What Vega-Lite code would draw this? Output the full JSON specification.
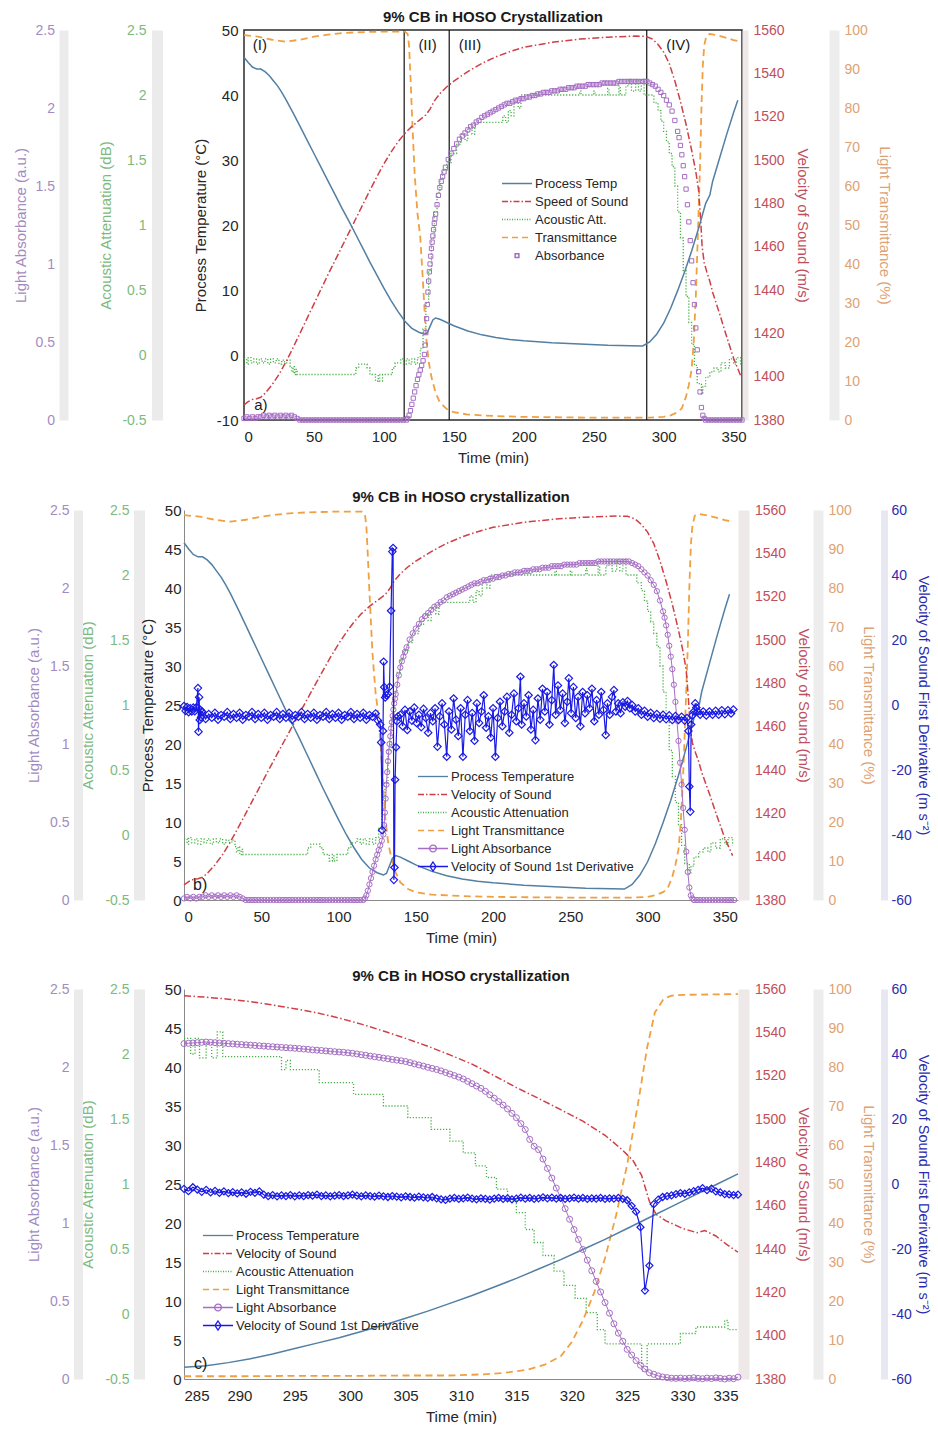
{
"$schema": "https://vega.github.io/schema/vega-lite/v6.json",
"background": "white",
"padding": {"left": 11, "top": 9, "right": 0, "bottom": 0},
"spacing": 24,
"config": {
  "font": "Liberation Sans",
  "view": {"stroke": null},
  "axis": {"labelFont": "Liberation Sans", "titleFont": "Liberation Sans", "labelFontSize": 14, "titleFontSize": 15, "titleFontWeight": "normal", "ticks": false, "grid": false, "labelColor": "#262626", "titleColor": "#262626", "domainColor": "#8a8a8a"},
  "legend": {"labelFont": "Liberation Sans", "labelFontSize": 13, "labelColor": "#262626", "labelLimit": 400},
  "title": {"font": "Liberation Sans", "fontSize": 15, "fontWeight": "bold", "color": "#1a1a1a"},
  "text": {"font": "Liberation Sans"}
},
"resolve": {"scale": {"color": "independent"}, "legend": {"color": "independent"}},
"datasets": {
  "none": [],
  "phasesA": [{"t":114.5},{"t":146.7},{"t":287.9}],
  "labelsA": [{"t":11.4,"v":47.7,"label":"(I)"},{"t":131.2,"v":47.7,"label":"(II)"},{"t":161.5,"v":47.7,"label":"(III)"},{"t":310.4,"v":47.7,"label":"(IV)"},{"t":12.1,"v":-7.7,"label":"a)"}],
  "labelsB": [{"t":10.5,"v":1.9,"label":"b)"}],
  "labelsC": [{"t":286.5,"v":1.9,"label":"c)"}],
  "tempAB": [{"t":0,"v":45.8},{"t":3,"v":45.0},{"t":6,"v":44.3},{"t":9,"v":44.0},{"t":12,"v":44.0},{"t":15,"v":43.6},{"t":18,"v":43.0},{"t":21,"v":42.2},{"t":24,"v":41.4},{"t":27,"v":40.4},{"t":30,"v":39.3},{"t":35,"v":37.3},{"t":40,"v":35.2},{"t":45,"v":33.1},{"t":50,"v":31.0},{"t":55,"v":28.9},{"t":60,"v":26.8},{"t":65,"v":24.7},{"t":70,"v":22.6},{"t":75,"v":20.6},{"t":80,"v":18.5},{"t":85,"v":16.4},{"t":90,"v":14.3},{"t":95,"v":12.3},{"t":100,"v":10.3},{"t":105,"v":8.4},{"t":110,"v":6.7},{"t":115,"v":5.2},{"t":120,"v":4.1},{"t":125,"v":3.5},{"t":129,"v":3.2},{"t":131,"v":3.4},{"t":133,"v":4.4},{"t":135,"v":5.4},{"t":137,"v":5.7},{"t":140,"v":5.5},{"t":145,"v":5.0},{"t":150,"v":4.5},{"t":160,"v":3.7},{"t":170,"v":3.1},{"t":180,"v":2.7},{"t":190,"v":2.4},{"t":200,"v":2.2},{"t":220,"v":1.9},{"t":240,"v":1.7},{"t":260,"v":1.5},{"t":285,"v":1.4},{"t":290,"v":2.0},{"t":295,"v":3.2},{"t":300,"v":4.9},{"t":305,"v":7.2},{"t":310,"v":9.9},{"t":315,"v":12.8},{"t":320,"v":16.0},{"t":325,"v":19.5},{"t":330,"v":23.3},{"t":333,"v":24.6},{"t":335,"v":26.7},{"t":340,"v":30.3},{"t":345,"v":33.9},{"t":350,"v":37.3},{"t":353,"v":39.2}],
  "vosAB": [{"t":0,"v":1387},{"t":3,"v":1388.5},{"t":6,"v":1389.5},{"t":9,"v":1389.8},{"t":12,"v":1390.5},{"t":15,"v":1392.3},{"t":20,"v":1396.2},{"t":25,"v":1401},{"t":30,"v":1406.8},{"t":35,"v":1413.3},{"t":40,"v":1420},{"t":45,"v":1426.8},{"t":50,"v":1433.5},{"t":55,"v":1440.3},{"t":60,"v":1447},{"t":65,"v":1453.5},{"t":70,"v":1460},{"t":75,"v":1466.5},{"t":80,"v":1473},{"t":85,"v":1479.5},{"t":90,"v":1486},{"t":95,"v":1492.3},{"t":100,"v":1498.2},{"t":105,"v":1503.5},{"t":110,"v":1508.3},{"t":115,"v":1512.3},{"t":120,"v":1515.5},{"t":125,"v":1518.2},{"t":130,"v":1520.8},{"t":133,"v":1523.5},{"t":136,"v":1527.2},{"t":140,"v":1530.6},{"t":145,"v":1533.8},{"t":150,"v":1536.4},{"t":160,"v":1540.8},{"t":170,"v":1544.6},{"t":180,"v":1547.6},{"t":190,"v":1550},{"t":200,"v":1552},{"t":220,"v":1554.3},{"t":240,"v":1555.8},{"t":260,"v":1556.7},{"t":280,"v":1557.2},{"t":287,"v":1557.1},{"t":292,"v":1555.8},{"t":296,"v":1553.3},{"t":300,"v":1549.8},{"t":304,"v":1544.5},{"t":308,"v":1536.5},{"t":312,"v":1527},{"t":316,"v":1516.5},{"t":320,"v":1504.5},{"t":323,"v":1494.5},{"t":325,"v":1486},{"t":326.5,"v":1472},{"t":327.5,"v":1460},{"t":329,"v":1452.5},{"t":331,"v":1448},{"t":333,"v":1444},{"t":335,"v":1439},{"t":340,"v":1429},{"t":345,"v":1418.5},{"t":350,"v":1408.5},{"t":355,"v":1400.5}],
  "transAB": [{"t":0,"v":98.7},{"t":10,"v":98.3},{"t":20,"v":97.5},{"t":30,"v":97.0},{"t":40,"v":97.5},{"t":50,"v":98.3},{"t":60,"v":98.8},{"t":70,"v":99.2},{"t":80,"v":99.4},{"t":100,"v":99.6},{"t":115,"v":99.6},{"t":117,"v":99.0},{"t":118,"v":96},{"t":119,"v":88},{"t":120,"v":79},{"t":122,"v":63},{"t":124,"v":53},{"t":126,"v":47},{"t":128,"v":35},{"t":130,"v":22},{"t":132,"v":15},{"t":134,"v":11},{"t":137,"v":7},{"t":140,"v":4.5},{"t":145,"v":2.8},{"t":150,"v":2.0},{"t":160,"v":1.4},{"t":180,"v":1.0},{"t":200,"v":0.8},{"t":250,"v":0.6},{"t":290,"v":0.6},{"t":300,"v":0.8},{"t":305,"v":1.2},{"t":310,"v":2.0},{"t":313,"v":3.0},{"t":316,"v":6.0},{"t":318,"v":9.0},{"t":320,"v":13},{"t":321.5,"v":20},{"t":323,"v":32},{"t":324.5,"v":48},{"t":326,"v":65},{"t":327,"v":80},{"t":328,"v":91},{"t":329,"v":96},{"t":330.5,"v":98.5},{"t":333,"v":99.0},{"t":340,"v":98.5},{"t":350,"v":97.4},{"t":355,"v":97.0}],
  "attAB": [{"t":0,"v":-0.03},{"t":2,"v":-0.07},{"t":3,"v":-0.02},{"t":5,"v":-0.06},{"t":7,"v":-0.03},{"t":9,"v":-0.07},{"t":11,"v":-0.03},{"t":13,"v":-0.06},{"t":15,"v":-0.03},{"t":17,"v":-0.07},{"t":19,"v":-0.03},{"t":21,"v":-0.06},{"t":23,"v":-0.03},{"t":25,"v":-0.07},{"t":27,"v":-0.04},{"t":29,"v":-0.06},{"t":31,"v":-0.04},{"t":33,"v":-0.09},{"t":34,"v":-0.13},{"t":35,"v":-0.09},{"t":36,"v":-0.15},{"t":37,"v":-0.11},{"t":38,"v":-0.15},{"t":80,"v":-0.10},{"t":82,"v":-0.07},{"t":88,"v":-0.10},{"t":90,"v":-0.15},{"t":94,"v":-0.20},{"t":96,"v":-0.15},{"t":97,"v":-0.20},{"t":99,"v":-0.15},{"t":106,"v":-0.10},{"t":108,"v":-0.06},{"t":112,"v":-0.03},{"t":114,"v":-0.07},{"t":116,"v":-0.03},{"t":118,"v":-0.07},{"t":120,"v":-0.03},{"t":122,"v":-0.07},{"t":124,"v":-0.02},{"t":126,"v":0.05},{"t":128,"v":0.2},{"t":130,"v":0.4},{"t":132,"v":0.65},{"t":134,"v":0.9},{"t":136,"v":1.1},{"t":138,"v":1.25},{"t":140,"v":1.35},{"t":142,"v":1.42},{"t":145,"v":1.48},{"t":148,"v":1.55},{"t":152,"v":1.62},{"t":155,"v":1.70},{"t":158,"v":1.65},{"t":160,"v":1.75},{"t":163,"v":1.70},{"t":165,"v":1.79},{"t":185,"v":1.84},{"t":187,"v":1.79},{"t":189,"v":1.88},{"t":191,"v":1.84},{"t":193,"v":1.94},{"t":196,"v":1.90},{"t":198,"v":2.0},{"t":240,"v":2.03},{"t":241,"v":2.0},{"t":250,"v":2.03},{"t":251,"v":2.0},{"t":260,"v":2.05},{"t":261,"v":2.0},{"t":268,"v":2.07},{"t":269,"v":2.0},{"t":273,"v":2.07},{"t":275,"v":2.12},{"t":277,"v":2.03},{"t":280,"v":2.12},{"t":282,"v":2.03},{"t":284,"v":2.12},{"t":286,"v":2.0},{"t":293,"v":1.94},{"t":296,"v":1.88},{"t":298,"v":1.80},{"t":300,"v":1.72},{"t":302,"v":1.64},{"t":304,"v":1.55},{"t":306,"v":1.45},{"t":308,"v":1.30},{"t":310,"v":1.10},{"t":312,"v":0.90},{"t":314,"v":0.65},{"t":316,"v":0.45},{"t":318,"v":0.25},{"t":320,"v":0.08},{"t":322,"v":-0.08},{"t":324,"v":-0.22},{"t":327,"v":-0.30},{"t":328,"v":-0.24},{"t":330,"v":-0.17},{"t":333,"v":-0.13},{"t":336,"v":-0.10},{"t":339,"v":-0.13},{"t":341,"v":-0.06},{"t":344,"v":-0.10},{"t":347,"v":-0.03},{"t":350,"v":-0.07},{"t":352,"v":-0.02},{"t":355,"v":-0.08}],
  "absAB": [{"t":0,"v":0.01},{"t":2,"v":0.02},{"t":4,"v":0.01},{"t":6,"v":0.02},{"t":8,"v":0.01},{"t":10,"v":0.02},{"t":12,"v":0.02},{"t":14,"v":0.03},{"t":16,"v":0.02},{"t":18,"v":0.03},{"t":20,"v":0.02},{"t":22,"v":0.03},{"t":24,"v":0.02},{"t":26,"v":0.03},{"t":28,"v":0.02},{"t":30,"v":0.03},{"t":32,"v":0.02},{"t":34,"v":0.03},{"t":36,"v":0.02},{"t":38,"v":0.01},{"t":40,"v":0},{"t":42,"v":0},{"t":44,"v":0},{"t":46,"v":0},{"t":48,"v":0},{"t":50,"v":0},{"t":52,"v":0},{"t":54,"v":0},{"t":56,"v":0},{"t":58,"v":0},{"t":60,"v":0},{"t":62,"v":0},{"t":64,"v":0},{"t":66,"v":0},{"t":68,"v":0},{"t":70,"v":0},{"t":72,"v":0},{"t":74,"v":0},{"t":76,"v":0},{"t":78,"v":0},{"t":80,"v":0},{"t":82,"v":0},{"t":84,"v":0},{"t":86,"v":0},{"t":88,"v":0},{"t":90,"v":0},{"t":92,"v":0},{"t":94,"v":0},{"t":96,"v":0},{"t":98,"v":0},{"t":100,"v":0},{"t":102,"v":0},{"t":104,"v":0},{"t":106,"v":0},{"t":108,"v":0},{"t":110,"v":0},{"t":112,"v":0},{"t":114,"v":0},{"t":116,"v":0},{"t":117,"v":0.01},{"t":118,"v":0.03},{"t":119,"v":0.06},{"t":120,"v":0.10},{"t":121,"v":0.14},{"t":122,"v":0.18},{"t":123,"v":0.22},{"t":124,"v":0.26},{"t":125,"v":0.29},{"t":126,"v":0.32},{"t":127,"v":0.35},{"t":128,"v":0.38},{"t":129,"v":0.42},{"t":129.5,"v":0.48},{"t":130,"v":0.56},{"t":130.5,"v":0.65},{"t":131,"v":0.74},{"t":131.5,"v":0.82},{"t":132,"v":0.89},{"t":132.5,"v":0.95},{"t":133,"v":1.0},{"t":133.5,"v":1.05},{"t":134,"v":1.1},{"t":134.5,"v":1.14},{"t":135,"v":1.18},{"t":135.5,"v":1.22},{"t":136,"v":1.26},{"t":136.5,"v":1.29},{"t":137,"v":1.32},{"t":138,"v":1.38},{"t":139,"v":1.44},{"t":140,"v":1.49},{"t":141,"v":1.53},{"t":142,"v":1.56},{"t":143,"v":1.59},{"t":144,"v":1.62},{"t":146,"v":1.67},{"t":148,"v":1.71},{"t":150,"v":1.74},{"t":152,"v":1.77},{"t":154,"v":1.80},{"t":156,"v":1.82},{"t":158,"v":1.84},{"t":160,"v":1.86},{"t":162,"v":1.88},{"t":164,"v":1.89},{"t":166,"v":1.91},{"t":168,"v":1.92},{"t":170,"v":1.94},{"t":172,"v":1.95},{"t":174,"v":1.96},{"t":176,"v":1.97},{"t":178,"v":1.98},{"t":180,"v":1.99},{"t":182,"v":2.00},{"t":184,"v":2.01},{"t":186,"v":2.02},{"t":188,"v":2.03},{"t":190,"v":2.03},{"t":192,"v":2.04},{"t":194,"v":2.05},{"t":196,"v":2.05},{"t":198,"v":2.06},{"t":200,"v":2.06},{"t":202,"v":2.07},{"t":204,"v":2.07},{"t":206,"v":2.08},{"t":208,"v":2.08},{"t":210,"v":2.09},{"t":212,"v":2.09},{"t":214,"v":2.10},{"t":216,"v":2.10},{"t":218,"v":2.10},{"t":220,"v":2.11},{"t":222,"v":2.11},{"t":224,"v":2.11},{"t":226,"v":2.12},{"t":228,"v":2.12},{"t":230,"v":2.12},{"t":232,"v":2.13},{"t":234,"v":2.13},{"t":236,"v":2.13},{"t":238,"v":2.14},{"t":240,"v":2.14},{"t":242,"v":2.14},{"t":244,"v":2.14},{"t":246,"v":2.15},{"t":248,"v":2.15},{"t":250,"v":2.15},{"t":252,"v":2.15},{"t":254,"v":2.15},{"t":256,"v":2.16},{"t":258,"v":2.16},{"t":260,"v":2.16},{"t":262,"v":2.16},{"t":264,"v":2.16},{"t":266,"v":2.16},{"t":268,"v":2.17},{"t":270,"v":2.17},{"t":272,"v":2.17},{"t":274,"v":2.17},{"t":276,"v":2.17},{"t":278,"v":2.17},{"t":280,"v":2.17},{"t":282,"v":2.17},{"t":284,"v":2.17},{"t":286,"v":2.17},{"t":288,"v":2.17},{"t":290,"v":2.16},{"t":292,"v":2.15},{"t":294,"v":2.14},{"t":296,"v":2.12},{"t":298,"v":2.10},{"t":300,"v":2.08},{"t":302,"v":2.05},{"t":304,"v":2.02},{"t":306,"v":1.98},{"t":308,"v":1.92},{"t":310,"v":1.85},{"t":311,"v":1.81},{"t":312,"v":1.76},{"t":313,"v":1.70},{"t":314,"v":1.63},{"t":315,"v":1.56},{"t":316,"v":1.48},{"t":317,"v":1.38},{"t":318,"v":1.27},{"t":319,"v":1.15},{"t":320,"v":1.02},{"t":321,"v":0.88},{"t":322,"v":0.74},{"t":323,"v":0.59},{"t":324,"v":0.45},{"t":325,"v":0.31},{"t":326,"v":0.18},{"t":327,"v":0.08},{"t":328,"v":0.03},{"t":329,"v":0.01},{"t":330,"v":0},{"t":332,"v":0},{"t":334,"v":0},{"t":336,"v":0},{"t":338,"v":0},{"t":340,"v":0},{"t":342,"v":0},{"t":344,"v":0},{"t":346,"v":0},{"t":348,"v":0},{"t":350,"v":0},{"t":352,"v":0},{"t":354,"v":0},{"t":356,"v":0}],
  "derivB": [{"t":0,"v":-0.3},{"t":1,"v":-1.8},{"t":2,"v":-0.6},{"t":3,"v":-2.2},{"t":4,"v":-1.0},{"t":5,"v":-2.0},{"t":6,"v":-0.8},{"t":7,"v":-1.9},{"t":8,"v":-0.7},{"t":9,"v":5.2},{"t":9.4,"v":-8.2},{"t":9.8,"v":2.4},{"t":10.2,"v":-4.6},{"t":10.6,"v":-1.5},{"t":11,"v":-3.8},{"t":11.5,"v":-2.0},{"t":12,"v":-2.2},{"t":14,"v":-4.3},{"t":16,"v":-2.8},{"t":18,"v":-3.9},{"t":20,"v":-2.4},{"t":22,"v":-4.5},{"t":24,"v":-3.1},{"t":26,"v":-3.6},{"t":28,"v":-2.2},{"t":30,"v":-4.3},{"t":32,"v":-2.8},{"t":34,"v":-3.9},{"t":36,"v":-2.4},{"t":38,"v":-4.5},{"t":40,"v":-3.1},{"t":42,"v":-3.6},{"t":44,"v":-2.2},{"t":46,"v":-4.3},{"t":48,"v":-2.8},{"t":50,"v":-3.9},{"t":52,"v":-2.4},{"t":54,"v":-4.5},{"t":56,"v":-3.1},{"t":58,"v":-3.6},{"t":60,"v":-2.2},{"t":62,"v":-4.3},{"t":64,"v":-2.8},{"t":66,"v":-3.9},{"t":68,"v":-2.4},{"t":70,"v":-4.5},{"t":72,"v":-3.1},{"t":74,"v":-3.6},{"t":76,"v":-2.2},{"t":78,"v":-4.3},{"t":80,"v":-2.8},{"t":82,"v":-3.9},{"t":84,"v":-2.4},{"t":86,"v":-4.5},{"t":88,"v":-3.1},{"t":90,"v":-3.6},{"t":92,"v":-2.2},{"t":94,"v":-4.3},{"t":96,"v":-2.8},{"t":98,"v":-3.9},{"t":100,"v":-2.4},{"t":102,"v":-4.5},{"t":104,"v":-3.1},{"t":106,"v":-3.6},{"t":108,"v":-2.2},{"t":110,"v":-4.3},{"t":112,"v":-2.8},{"t":114,"v":-3.9},{"t":116,"v":-2.4},{"t":118,"v":-4.5},{"t":120,"v":-3.1},{"t":122,"v":-3.6},{"t":124,"v":-2.6},{"t":125.5,"v":-4.8},{"t":127,"v":-6},{"t":127.6,"v":-11.5},{"t":128.2,"v":-38.5},{"t":128.8,"v":-8},{"t":129.2,"v":13.3},{"t":129.6,"v":5.5},{"t":130.2,"v":2.3},{"t":131,"v":3.0},{"t":132,"v":3.4},{"t":133,"v":5.6},{"t":134,"v":29},{"t":134.8,"v":47.2},{"t":135.3,"v":48.3},{"t":135.8,"v":-53.8},{"t":136.2,"v":-50},{"t":136.6,"v":-23},{"t":137.2,"v":-13},{"t":137.8,"v":-5},{"t":138.5,"v":-3.5},{"t":140,"v":-3.0},{"t":141.5,"v":-6.5},{"t":143,"v":-1.5},{"t":144.5,"v":-7.7},{"t":146,"v":-2.0},{"t":147.5,"v":-4.8},{"t":149,"v":-0.8},{"t":150.5,"v":-5.5},{"t":152,"v":-3.0},{"t":153.5,"v":-6.8},{"t":155,"v":-1.2},{"t":156.5,"v":-4.0},{"t":158,"v":-8.5},{"t":159.5,"v":-2.5},{"t":161,"v":-5.0},{"t":162.5,"v":-1.0},{"t":164,"v":-12.8},{"t":165.5,"v":-3.5},{"t":167,"v":0.5},{"t":168.5,"v":-6.0},{"t":170,"v":-15.9},{"t":171.5,"v":-2.0},{"t":173,"v":-7.5},{"t":174.5,"v":2.0},{"t":176,"v":-4.5},{"t":177.5,"v":-9.5},{"t":179,"v":-1.0},{"t":180.5,"v":-15.9},{"t":182,"v":-3.0},{"t":183.5,"v":1.5},{"t":185,"v":-8.0},{"t":186.5,"v":-2.5},{"t":188,"v":-11.0},{"t":189.5,"v":0.5},{"t":191,"v":-5.5},{"t":192.5,"v":-2.0},{"t":194,"v":3.0},{"t":195.5,"v":-7.0},{"t":197,"v":-3.5},{"t":198.5,"v":-10.0},{"t":200,"v":-1.0},{"t":201.5,"v":-15.9},{"t":203,"v":-4.0},{"t":204.5,"v":1.0},{"t":206,"v":-6.5},{"t":207.5,"v":-2.0},{"t":209,"v":2.5},{"t":210.5,"v":-8.5},{"t":212,"v":-3.0},{"t":213.5,"v":3.5},{"t":215,"v":-5.0},{"t":216.5,"v":-1.0},{"t":217.7,"v":8.7},{"t":218.5,"v":-6.0},{"t":220,"v":0.5},{"t":221.5,"v":-3.5},{"t":223,"v":3.0},{"t":224.5,"v":-7.5},{"t":226,"v":-1.5},{"t":227.4,"v":-10.8},{"t":229,"v":2.0},{"t":230.5,"v":-4.5},{"t":232,"v":5.0},{"t":233.5,"v":-2.0},{"t":235,"v":4.0},{"t":236.5,"v":-6.0},{"t":238,"v":1.5},{"t":239.3,"v":12.3},{"t":240.5,"v":-3.0},{"t":242,"v":6.0},{"t":243.5,"v":-1.5},{"t":245,"v":3.5},{"t":246.5,"v":-5.5},{"t":248,"v":1.0},{"t":249,"v":8.2},{"t":250.5,"v":-2.5},{"t":252,"v":5.5},{"t":253.5,"v":-4.0},{"t":255,"v":2.5},{"t":256.5,"v":-6.5},{"t":258,"v":4.0},{"t":259.5,"v":-2.5},{"t":261,"v":3.0},{"t":262.5,"v":-1.0},{"t":264,"v":5.0},{"t":265.5,"v":-5.0},{"t":267,"v":1.5},{"t":268.5,"v":-3.0},{"t":270,"v":4.0},{"t":271.5,"v":-1.5},{"t":272.9,"v":-9.2},{"t":274,"v":0.5},{"t":275.5,"v":-3.0},{"t":277,"v":2.5},{"t":278.2,"v":4.6},{"t":279.5,"v":-2.0},{"t":281,"v":0.5},{"t":282.5,"v":-2.5},{"t":284,"v":0.8},{"t":285.5,"v":-0.5},{"t":287,"v":1.2},{"t":288.5,"v":-1.0},{"t":290,"v":0.0},{"t":292,"v":-2.0},{"t":294,"v":-1.0},{"t":296,"v":-3.0},{"t":298,"v":-1.8},{"t":300,"v":-3.6},{"t":302,"v":-2.4},{"t":304,"v":-4.0},{"t":306,"v":-2.8},{"t":308,"v":-4.2},{"t":310,"v":-3.0},{"t":312,"v":-4.4},{"t":314,"v":-3.2},{"t":316,"v":-4.6},{"t":318,"v":-3.4},{"t":320,"v":-4.6},{"t":322,"v":-3.6},{"t":324,"v":-4.8},{"t":325.5,"v":-4.0},{"t":326.4,"v":-8.0},{"t":327,"v":-25.1},{"t":327.6,"v":-32.8},{"t":328.2,"v":-6.0},{"t":329,"v":-3.2},{"t":330,"v":-2.0},{"t":330.8,"v":0.5},{"t":331.5,"v":-0.8},{"t":332.5,"v":-2.0},{"t":334,"v":-3.0},{"t":336,"v":-2.0},{"t":338,"v":-3.2},{"t":340,"v":-2.0},{"t":342,"v":-3.0},{"t":344,"v":-1.8},{"t":346,"v":-3.0},{"t":348,"v":-1.6},{"t":350,"v":-2.8},{"t":352,"v":-1.6},{"t":354,"v":-2.6},{"t":355.5,"v":-1.4}],
  "tempC": [{"t":285,"v":1.5},{"t":287,"v":1.7},{"t":289,"v":2.1},{"t":291,"v":2.6},{"t":293,"v":3.2},{"t":295,"v":3.9},{"t":297,"v":4.6},{"t":299,"v":5.3},{"t":301,"v":6.1},{"t":303,"v":6.9},{"t":305,"v":7.8},{"t":307,"v":8.7},{"t":309,"v":9.7},{"t":311,"v":10.7},{"t":313,"v":11.8},{"t":315,"v":12.9},{"t":317,"v":14.1},{"t":319,"v":15.3},{"t":321,"v":16.6},{"t":323,"v":17.9},{"t":325,"v":19.3},{"t":327,"v":20.7},{"t":329,"v":22.1},{"t":331,"v":23.5},{"t":333,"v":24.9},{"t":335,"v":26.3}],
  "vosC": [{"t":285,"v":1556.9},{"t":287,"v":1556.2},{"t":289,"v":1555.3},{"t":291,"v":1554.2},{"t":293,"v":1552.6},{"t":295,"v":1550.9},{"t":297,"v":1549.0},{"t":299,"v":1546.6},{"t":301,"v":1543.8},{"t":303,"v":1540.6},{"t":305,"v":1537.2},{"t":307,"v":1533.6},{"t":309,"v":1529.6},{"t":311,"v":1525.3},{"t":313,"v":1520.0},{"t":315,"v":1514.5},{"t":317,"v":1509.5},{"t":319,"v":1504.3},{"t":321,"v":1499.0},{"t":323,"v":1492.5},{"t":324.5,"v":1486},{"t":325.5,"v":1481},{"t":326.3,"v":1474},{"t":327,"v":1462},{"t":327.6,"v":1456},{"t":328.5,"v":1453},{"t":330,"v":1449.5},{"t":331.3,"v":1447.5},{"t":332,"v":1448.5},{"t":333,"v":1446},{"t":334,"v":1442},{"t":335,"v":1438.5}],
  "transC": [{"t":285,"v":0.7},{"t":290,"v":0.7},{"t":295,"v":0.8},{"t":300,"v":0.8},{"t":305,"v":0.9},{"t":309,"v":0.9},{"t":312,"v":1.2},{"t":314,"v":1.6},{"t":316,"v":2.4},{"t":317.5,"v":3.6},{"t":319,"v":5.8},{"t":320,"v":9.5},{"t":321,"v":15},{"t":322,"v":22},{"t":323,"v":31},{"t":324,"v":42},{"t":325,"v":55},{"t":326,"v":71},{"t":326.8,"v":85},{"t":327.5,"v":94},{"t":328.3,"v":97.5},{"t":329,"v":98.3},{"t":330,"v":98.5},{"t":335,"v":98.7}],
  "attC": [{"t":285,"v":2.12},{"t":285.6,"v":2.0},{"t":286,"v":2.12},{"t":286.4,"v":1.97},{"t":287,"v":2.08},{"t":287.5,"v":1.97},{"t":288,"v":2.17},{"t":288.5,"v":1.98},{"t":293.8,"v":1.88},{"t":294.2,"v":1.95},{"t":294.6,"v":1.88},{"t":297.2,"v":1.78},{"t":300.3,"v":1.69},{"t":303.0,"v":1.60},{"t":305.2,"v":1.51},{"t":307.3,"v":1.42},{"t":309.0,"v":1.33},{"t":310.2,"v":1.24},{"t":311.3,"v":1.14},{"t":312.3,"v":1.05},{"t":313.2,"v":0.96},{"t":314.2,"v":0.87},{"t":315.0,"v":0.78},{"t":315.8,"v":0.65},{"t":316.6,"v":0.55},{"t":317.4,"v":0.45},{"t":318.4,"v":0.33},{"t":319.3,"v":0.22},{"t":320.3,"v":0.12},{"t":321.3,"v":0.01},{"t":322.3,"v":-0.12},{"t":323.0,"v":-0.23},{"t":326.3,"v":-0.44},{"t":326.8,"v":-0.23},{"t":329.8,"v":-0.15},{"t":331.2,"v":-0.10},{"t":333.8,"v":-0.05},{"t":334.1,"v":-0.12},{"t":335,"v":-0.12}],
  "absC": [{"t":285.0,"v":2.150},{"t":285.4,"v":2.152},{"t":285.8,"v":2.154},{"t":286.2,"v":2.156},{"t":286.6,"v":2.158},{"t":287.0,"v":2.160},{"t":287.4,"v":2.158},{"t":287.8,"v":2.156},{"t":288.2,"v":2.154},{"t":288.6,"v":2.152},{"t":289.0,"v":2.150},{"t":289.4,"v":2.148},{"t":289.8,"v":2.146},{"t":290.2,"v":2.144},{"t":290.6,"v":2.142},{"t":291.0,"v":2.140},{"t":291.4,"v":2.138},{"t":291.8,"v":2.136},{"t":292.2,"v":2.134},{"t":292.6,"v":2.132},{"t":293.0,"v":2.130},{"t":293.4,"v":2.128},{"t":293.8,"v":2.126},{"t":294.2,"v":2.124},{"t":294.6,"v":2.122},{"t":295.0,"v":2.120},{"t":295.4,"v":2.118},{"t":295.8,"v":2.115},{"t":296.2,"v":2.113},{"t":296.6,"v":2.110},{"t":297.0,"v":2.108},{"t":297.4,"v":2.106},{"t":297.8,"v":2.103},{"t":298.2,"v":2.101},{"t":298.6,"v":2.098},{"t":299.0,"v":2.096},{"t":299.4,"v":2.094},{"t":299.8,"v":2.091},{"t":300.2,"v":2.088},{"t":300.6,"v":2.084},{"t":301.0,"v":2.079},{"t":301.4,"v":2.075},{"t":301.8,"v":2.070},{"t":302.2,"v":2.066},{"t":302.6,"v":2.062},{"t":303.0,"v":2.057},{"t":303.4,"v":2.053},{"t":303.8,"v":2.048},{"t":304.2,"v":2.044},{"t":304.6,"v":2.040},{"t":305.0,"v":2.035},{"t":305.4,"v":2.028},{"t":305.8,"v":2.020},{"t":306.2,"v":2.013},{"t":306.6,"v":2.006},{"t":307.0,"v":1.998},{"t":307.4,"v":1.991},{"t":307.8,"v":1.984},{"t":308.2,"v":1.975},{"t":308.6,"v":1.965},{"t":309.0,"v":1.955},{"t":309.4,"v":1.945},{"t":309.8,"v":1.935},{"t":310.2,"v":1.923},{"t":310.6,"v":1.908},{"t":311.0,"v":1.893},{"t":311.4,"v":1.878},{"t":311.8,"v":1.863},{"t":312.2,"v":1.844},{"t":312.6,"v":1.822},{"t":313.0,"v":1.800},{"t":313.4,"v":1.778},{"t":313.8,"v":1.756},{"t":314.2,"v":1.731},{"t":314.6,"v":1.703},{"t":315.0,"v":1.675},{"t":315.4,"v":1.637},{"t":315.8,"v":1.599},{"t":316.2,"v":1.536},{"t":316.6,"v":1.492},{"t":317.0,"v":1.470},{"t":317.4,"v":1.410},{"t":317.8,"v":1.350},{"t":318.2,"v":1.288},{"t":318.6,"v":1.224},{"t":319.0,"v":1.160},{"t":319.4,"v":1.092},{"t":319.8,"v":1.024},{"t":320.2,"v":0.958},{"t":320.6,"v":0.894},{"t":321.0,"v":0.830},{"t":321.4,"v":0.762},{"t":321.8,"v":0.694},{"t":322.2,"v":0.626},{"t":322.6,"v":0.558},{"t":323.0,"v":0.490},{"t":323.4,"v":0.422},{"t":323.8,"v":0.354},{"t":324.2,"v":0.294},{"t":324.6,"v":0.242},{"t":325.0,"v":0.190},{"t":325.4,"v":0.154},{"t":325.8,"v":0.118},{"t":326.2,"v":0.088},{"t":326.6,"v":0.064},{"t":327.0,"v":0.040},{"t":327.4,"v":0.030},{"t":327.8,"v":0.020},{"t":328.2,"v":0.013},{"t":328.6,"v":0.009},{"t":329.0,"v":0.005},{"t":329.4,"v":0.004},{"t":329.8,"v":0.006},{"t":330.2,"v":0.003},{"t":330.6,"v":0.005},{"t":331.0,"v":0.008},{"t":331.4,"v":0.004},{"t":331.8,"v":0.002},{"t":332.2,"v":0.006},{"t":332.6,"v":0.003},{"t":333.0,"v":0.007},{"t":333.4,"v":0.004},{"t":333.8,"v":0.0},{"t":334.2,"v":0.005},{"t":334.6,"v":0.002},{"t":335.0,"v":0.012}],
  "derivC": [{"t":285.0,"v":-1.5},{"t":285.4,"v":-2.2},{"t":285.8,"v":-1.0},{"t":286.2,"v":-1.7},{"t":286.6,"v":-2.4},{"t":287.0,"v":-1.8},{"t":287.4,"v":-2.6},{"t":287.8,"v":-2.1},{"t":288.2,"v":-2.7},{"t":288.6,"v":-2.3},{"t":289.0,"v":-2.8},{"t":289.4,"v":-2.5},{"t":289.8,"v":-2.9},{"t":290.2,"v":-2.6},{"t":290.6,"v":-3.0},{"t":291.0,"v":-2.4},{"t":291.4,"v":-2.7},{"t":291.8,"v":-2.3},{"t":292.2,"v":-3.3},{"t":292.6,"v":-3.7},{"t":293.0,"v":-3.4},{"t":293.4,"v":-3.8},{"t":293.8,"v":-3.5},{"t":294.2,"v":-3.7},{"t":294.6,"v":-3.4},{"t":295.0,"v":-3.8},{"t":295.4,"v":-3.5},{"t":295.8,"v":-3.7},{"t":296.2,"v":-3.4},{"t":296.6,"v":-3.6},{"t":297.0,"v":-3.3},{"t":297.4,"v":-3.7},{"t":297.8,"v":-3.5},{"t":298.2,"v":-3.8},{"t":298.6,"v":-3.6},{"t":299.0,"v":-3.4},{"t":299.4,"v":-3.7},{"t":299.8,"v":-3.5},{"t":300.2,"v":-3.3},{"t":300.6,"v":-3.6},{"t":301.0,"v":-3.8},{"t":301.4,"v":-3.5},{"t":301.8,"v":-3.7},{"t":302.2,"v":-3.9},{"t":302.6,"v":-3.6},{"t":303.0,"v":-3.8},{"t":303.4,"v":-4.0},{"t":303.8,"v":-3.7},{"t":304.2,"v":-3.9},{"t":304.6,"v":-4.1},{"t":305.0,"v":-3.8},{"t":305.4,"v":-4.0},{"t":305.8,"v":-4.2},{"t":306.2,"v":-3.9},{"t":306.6,"v":-4.1},{"t":307.0,"v":-4.3},{"t":307.4,"v":-4.0},{"t":307.8,"v":-4.4},{"t":308.2,"v":-4.7},{"t":308.6,"v":-4.9},{"t":309.0,"v":-4.5},{"t":309.4,"v":-4.3},{"t":309.8,"v":-4.6},{"t":310.2,"v":-4.4},{"t":310.6,"v":-4.2},{"t":311.0,"v":-4.5},{"t":311.4,"v":-4.7},{"t":311.8,"v":-4.4},{"t":312.2,"v":-4.6},{"t":312.6,"v":-4.8},{"t":313.0,"v":-4.5},{"t":313.4,"v":-4.3},{"t":313.8,"v":-4.6},{"t":314.2,"v":-4.4},{"t":314.6,"v":-4.7},{"t":315.0,"v":-4.5},{"t":315.4,"v":-4.2},{"t":315.8,"v":-4.5},{"t":316.2,"v":-4.3},{"t":316.6,"v":-4.6},{"t":317.0,"v":-4.4},{"t":317.4,"v":-4.1},{"t":317.8,"v":-4.4},{"t":318.2,"v":-4.2},{"t":318.6,"v":-4.5},{"t":319.0,"v":-4.3},{"t":319.4,"v":-4.6},{"t":319.8,"v":-4.4},{"t":320.2,"v":-4.2},{"t":320.6,"v":-4.5},{"t":321.0,"v":-4.3},{"t":321.4,"v":-4.6},{"t":321.8,"v":-4.4},{"t":322.2,"v":-4.5},{"t":322.6,"v":-4.3},{"t":323.0,"v":-4.6},{"t":323.4,"v":-4.4},{"t":323.8,"v":-4.5},{"t":324.2,"v":-4.3},{"t":324.6,"v":-4.6},{"t":325.0,"v":-5.0},{"t":325.4,"v":-6.7},{"t":325.8,"v":-8.5},{"t":326.2,"v":-13.3},{"t":326.6,"v":-32.8},{"t":327.0,"v":-25.1},{"t":327.4,"v":-6.2},{"t":327.8,"v":-4.8},{"t":328.2,"v":-4.0},{"t":328.6,"v":-3.7},{"t":329.0,"v":-3.5},{"t":329.4,"v":-3.1},{"t":329.8,"v":-2.8},{"t":330.2,"v":-3.0},{"t":330.6,"v":-2.6},{"t":331.0,"v":-2.2},{"t":331.4,"v":-1.8},{"t":331.8,"v":-1.3},{"t":332.2,"v":-1.9},{"t":332.6,"v":-1.4},{"t":333.0,"v":-2.3},{"t":333.4,"v":-2.6},{"t":333.8,"v":-3.1},{"t":334.2,"v":-3.2},{"t":334.6,"v":-3.4},{"t":335.0,"v":-3.3}]
},
"vconcat": [
{"spacing": 0, "resolve": {"scale": {"color": "independent"}, "legend": {"color": "independent"}}, "hconcat": [
{"width": 1, "height": 1, "data": {"name": "none"}, "mark": {"type": "point"}, "encoding": {}},
{
  "width": 498, "height": 390,
  "view": {"stroke": "#2b2b2b", "strokeWidth": 1.5},
  "title": {"text": "9% CB in HOSO Crystallization", "frame": "group", "offset": -2},
  "encoding": {"x": {"field": "t", "type": "quantitative", "scale": {"domain": [0, 356], "nice": false, "zero": false}, "axis": {"values": [0,50,100,150,200,250,300,350], "title": "Time (min)", "labelFontSize": 15, "labelPadding": 9, "titlePadding": 6, "domain": false}}},
  "resolve": {"scale": {"y": "independent"}},
  "layer": [
    {"data": {"name": "phasesA"}, "mark": {"type": "rule", "color": "#111111", "strokeWidth": 1.2}, "encoding": {}},
    {"data": {"name": "attAB"}, "mark": {"type": "line", "interpolate": "step-after", "strokeDash": [1.2, 1.8], "strokeWidth": 1.3},
     "encoding": {"y": {"field": "v", "type": "quantitative", "scale": {"domain": [-0.5, 2.5], "nice": false, "zero": false},
        "axis": {"orient": "left", "offset": 87, "values": [-0.5,0,0.5,1,1.5,2,2.5], "labelExpr": "datum.value < 0 ? '-' + format(-datum.value, '~g') : format(datum.value, '~g')", "title": "Acoustic Attenuation (dB)", "labelColor": "#7dba7d", "titleColor": "#7dba7d", "domainColor": "#ebebeb", "domainWidth": 11, "labelPadding": 11, "titlePadding": 8}},
       "color": {"datum": "Acoustic Att."}}},
    {"data": {"name": "transAB"}, "mark": {"type": "line", "strokeDash": [7, 4.5], "strokeWidth": 1.8},
     "encoding": {"y": {"field": "v", "type": "quantitative", "scale": {"domain": [0, 100], "nice": false, "zero": false},
        "axis": {"orient": "right", "offset": 92, "values": [0,10,20,30,40,50,60,70,80,90,100], "title": "Light Transmittance (%)", "labelColor": "#dda276", "titleColor": "#dda276", "domainColor": "#ededed", "domainWidth": 10, "labelPadding": 10, "titlePadding": 9}},
       "color": {"datum": "Transmittance"}}},
    {"data": {"name": "vosAB"}, "mark": {"type": "line", "strokeDash": [7, 2.5, 1.5, 2.5], "strokeWidth": 1.5},
     "encoding": {"y": {"field": "v", "type": "quantitative", "scale": {"domain": [1380, 1560], "nice": false, "zero": false},
        "axis": {"orient": "right", "offset": 3, "values": [1380,1400,1420,1440,1460,1480,1500,1520,1540,1560], "format": "d", "title": "Velocity of Sound (m/s)", "labelColor": "#bf4f5c", "titleColor": "#bf4f5c", "domainColor": "#eee8e8", "domainWidth": 6, "labelPadding": 8, "titlePadding": 10}},
       "color": {"datum": "Speed of Sound"}}},
    {"data": {"name": "tempAB"}, "mark": {"type": "line", "strokeWidth": 1.5},
     "encoding": {"y": {"field": "v", "type": "quantitative", "scale": {"domain": [-10, 50], "nice": false, "zero": false},
        "axis": {"orient": "left", "values": [-10,0,10,20,30,40,50], "labelExpr": "replace(datum.label, '\u2212', '-')", "title": "Process Temperature (°C)", "labelFontSize": 15, "labelPadding": 6, "titlePadding": 8, "domain": false}},
       "color": {"datum": "Process Temp",
         "scale": {"domain": ["Process Temp", "Speed of Sound", "Acoustic Att.", "Transmittance", "Absorbance"], "range": ["#527fa3", "#cf3f47", "#45b045", "#f0a040", "#a56ec4"]},
         "legend": {"orient": "none", "legendX": 257, "legendY": 145, "title": null, "symbolSize": 225, "symbolStrokeWidth": 1.5, "labelOffset": 17, "rowPadding": 2, "padding": 0,
           "encode": {"symbols": {"update": {
             "shape": {"signal": "datum.value === 'Absorbance' ? 'M0.75,-0.25L1.25,-0.25L1.25,0.25L0.75,0.25Z' : 'M-1,0L3,0'"},
             "strokeDash": {"signal": "datum.value === 'Speed of Sound' ? [6,2,1.5,2] : datum.value === 'Acoustic Att.' ? [1,1.5] : datum.value === 'Transmittance' ? [6,4] : []"},
             "stroke": {"signal": "datum.value === 'Process Temp' ? '#527fa3' : datum.value === 'Speed of Sound' ? '#cf3f47' : datum.value === 'Acoustic Att.' ? '#45b045' : datum.value === 'Transmittance' ? '#f0a040' : '#a56ec4'"},
             "fill": {"value": "transparent"}, "size": {"value": 225}, "strokeWidth": {"value": 1.5}, "opacity": {"value": 1}}}}}}}},
    {"data": {"name": "labelsA"}, "mark": {"type": "text", "fontSize": 15, "color": "#1a1a1a"},
     "encoding": {"y": {"field": "v", "type": "quantitative", "scale": {"domain": [-10, 50], "nice": false, "zero": false}, "axis": null}, "text": {"field": "label"}}},
    {"data": {"name": "absAB"}, "mark": {"type": "point", "shape": "square", "filled": false, "size": 18, "strokeWidth": 1, "opacity": 1},
     "encoding": {"y": {"field": "v", "type": "quantitative", "scale": {"domain": [0, 2.5], "nice": false, "zero": false},
        "axis": {"orient": "left", "offset": 180.5, "values": [0,0.5,1,1.5,2,2.5], "labelExpr": "format(datum.value, '~g')", "title": "Light Absorbance (a.u.)", "labelColor": "#a48bbf", "titleColor": "#a48bbf", "domainColor": "#ebebeb", "domainWidth": 9, "labelPadding": 9, "titlePadding": 7}},
       "color": {"datum": "Absorbance"}}}
  ]
}]},
{"spacing": 0, "resolve": {"scale": {"color": "independent"}, "legend": {"color": "independent"}}, "hconcat": [
{"width": 1, "height": 1, "data": {"name": "none"}, "mark": {"type": "point"}, "encoding": {}},
{
  "width": 554, "height": 390,
  "title": {"text": "9% CB in HOSO crystallization", "frame": "group", "offset": -2},
  "encoding": {"x": {"field": "t", "type": "quantitative", "scale": {"domain": [0, 358.5], "nice": false, "zero": false}, "axis": {"values": [0,50,100,150,200,250,300,350], "title": "Time (min)", "labelFontSize": 15, "labelPadding": 9, "titlePadding": 6}}},
  "resolve": {"scale": {"y": "independent"}},
  "layer": [
    {"data": {"name": "attAB"}, "mark": {"type": "line", "interpolate": "step-after", "strokeDash": [1.2, 1.8], "strokeWidth": 1.3},
     "encoding": {"y": {"field": "v", "type": "quantitative", "scale": {"domain": [-0.5, 2.5], "nice": false, "zero": false},
        "axis": {"orient": "left", "offset": 45, "values": [-0.5,0,0.5,1,1.5,2,2.5], "labelExpr": "datum.value < 0 ? '-' + format(-datum.value, '~g') : format(datum.value, '~g')", "title": "Acoustic Attenuation (dB)", "labelColor": "#7dba7d", "titleColor": "#7dba7d", "domainColor": "#ebebeb", "domainWidth": 11, "labelPadding": 10, "titlePadding": 9}},
       "color": {"datum": "Acoustic Attenuation"}}},
    {"data": {"name": "transAB"}, "mark": {"type": "line", "strokeDash": [7, 4.5], "strokeWidth": 1.8},
     "encoding": {"y": {"field": "v", "type": "quantitative", "scale": {"domain": [0, 100], "nice": false, "zero": false},
        "axis": {"orient": "right", "offset": 80, "values": [0,10,20,30,40,50,60,70,80,90,100], "title": "Light Transmittance (%)", "labelColor": "#dda276", "titleColor": "#dda276", "domainColor": "#ededed", "domainWidth": 10, "labelPadding": 10, "titlePadding": 9}},
       "color": {"datum": "Light Transmittance"}}},
    {"data": {"name": "vosAB"}, "mark": {"type": "line", "strokeDash": [7, 2.5, 1.5, 2.5], "strokeWidth": 1.5},
     "encoding": {"y": {"field": "v", "type": "quantitative", "scale": {"domain": [1380, 1560], "nice": false, "zero": false},
        "axis": {"orient": "right", "offset": 5.5, "values": [1380,1400,1420,1440,1460,1480,1500,1520,1540,1560], "format": "d", "title": "Velocity of Sound (m/s)", "labelColor": "#bf4f5c", "titleColor": "#bf4f5c", "domainColor": "#eee8e8", "domainWidth": 11, "labelPadding": 11, "titlePadding": 10}},
       "color": {"datum": "Velocity of Sound"}}},
    {"data": {"name": "tempAB"}, "mark": {"type": "line", "strokeWidth": 1.5},
     "encoding": {"y": {"field": "v", "type": "quantitative", "scale": {"domain": [0, 50], "nice": false, "zero": false},
        "axis": {"orient": "left", "values": [0,5,10,15,20,25,30,35,40,45,50], "title": "Process Temperature (°C)", "labelFontSize": 15, "labelPadding": 3, "titlePadding": 9}},
       "color": {"datum": "Process Temperature",
         "scale": {"domain": ["Process Temperature", "Velocity of Sound", "Acoustic Attenuation", "Light Transmittance", "Light Absorbance", "Velocity of Sound 1st Derivative"], "range": ["#527fa3", "#cf3f47", "#45b045", "#f0a040", "#a56ec4", "#1a1ae6"]},
         "legend": {"orient": "none", "legendX": 233, "legendY": 258, "title": null, "symbolSize": 225, "symbolStrokeWidth": 1.5, "labelOffset": 17, "rowPadding": 2, "padding": 0,
           "encode": {"symbols": {"update": {
             "shape": {"signal": "datum.value === 'Light Absorbance' ? 'M-1,0L3,0M0.55,0A0.45,0.45 0 1 1 1.45,0A0.45,0.45 0 1 1 0.55,0' : datum.value === 'Velocity of Sound 1st Derivative' ? 'M-1,0L3,0M1,-0.6L1.4,0L1,0.6L0.6,0Z' : 'M-1,0L3,0'"},
             "strokeDash": {"signal": "datum.value === 'Velocity of Sound' ? [6,2,1.5,2] : datum.value === 'Acoustic Attenuation' ? [1,1.5] : datum.value === 'Light Transmittance' ? [6,4] : []"},
             "stroke": {"signal": "datum.value === 'Process Temperature' ? '#527fa3' : datum.value === 'Velocity of Sound' ? '#cf3f47' : datum.value === 'Acoustic Attenuation' ? '#45b045' : datum.value === 'Light Transmittance' ? '#f0a040' : datum.value === 'Light Absorbance' ? '#a56ec4' : '#1a1ae6'"},
             "fill": {"value": "transparent"}, "size": {"value": 225}, "strokeWidth": {"value": 1.3}, "opacity": {"value": 1}}}}}}}},
    {"data": {"name": "labelsB"}, "mark": {"type": "text", "fontSize": 16, "color": "#1a1a1a"},
     "encoding": {"y": {"field": "v", "type": "quantitative", "scale": {"domain": [0, 50], "nice": false, "zero": false}, "axis": null}, "text": {"field": "label"}}},
    {"data": {"name": "absAB"}, "mark": {"type": "line", "strokeWidth": 1, "point": {"filled": false, "shape": "circle", "size": 28, "strokeWidth": 1}},
     "encoding": {"y": {"field": "v", "type": "quantitative", "scale": {"domain": [0, 2.5], "nice": false, "zero": false},
        "axis": {"orient": "left", "offset": 106, "values": [0,0.5,1,1.5,2,2.5], "labelExpr": "format(datum.value, '~g')", "title": ["", "Light Absorbance (a.u.)"], "titleLineHeight": 14, "labelColor": "#a48bbf", "titleColor": "#a48bbf", "domainColor": "#ebebeb", "domainWidth": 9, "labelPadding": 9, "titlePadding": 8}},
       "color": {"datum": "Light Absorbance"}}},
    {"data": {"name": "derivB"}, "mark": {"type": "line", "strokeWidth": 1.2, "point": {"filled": false, "shape": "diamond", "size": 55, "strokeWidth": 1.2}},
     "encoding": {"y": {"field": "v", "type": "quantitative", "scale": {"domain": [-60, 60], "nice": false, "zero": false},
        "axis": {"orient": "right", "offset": 146, "values": [-60,-40,-20,0,20,40,60], "labelExpr": "replace(datum.label, '\u2212', '-')", "title": "Velocity of Sound First Derivative (m s⁻²)", "titleFontSize": 14.5, "labelColor": "#2b2bb0", "titleColor": "#2b2bb0", "domainColor": "#e8e8f2", "domainWidth": 7, "labelPadding": 7, "titlePadding": 4}},
       "color": {"datum": "Velocity of Sound 1st Derivative"}}}
  ]
}]},
{"spacing": 0, "resolve": {"scale": {"color": "independent"}, "legend": {"color": "independent"}}, "hconcat": [
{"width": 1, "height": 1, "data": {"name": "none"}, "mark": {"type": "point"}, "encoding": {}},
{
  "width": 554, "height": 390,
  "title": {"text": "9% CB in HOSO crystallization", "frame": "group", "offset": -2},
  "encoding": {"x": {"field": "t", "type": "quantitative", "scale": {"domain": [285, 335], "nice": false, "zero": false}, "axis": {"values": [285,290,295,300,305,310,315,320,325,330,335], "title": "Time (min)", "labelFontSize": 15, "labelPadding": 9, "titlePadding": 6}}},
  "resolve": {"scale": {"y": "independent"}},
  "layer": [
    {"data": {"name": "attC"}, "mark": {"type": "line", "interpolate": "step-after", "strokeDash": [1.2, 1.8], "strokeWidth": 1.3},
     "encoding": {"y": {"field": "v", "type": "quantitative", "scale": {"domain": [-0.5, 2.5], "nice": false, "zero": false},
        "axis": {"orient": "left", "offset": 45, "values": [-0.5,0,0.5,1,1.5,2,2.5], "labelExpr": "datum.value < 0 ? '-' + format(-datum.value, '~g') : format(datum.value, '~g')", "title": "Acoustic Attenuation (dB)", "labelColor": "#7dba7d", "titleColor": "#7dba7d", "domainColor": "#ebebeb", "domainWidth": 11, "labelPadding": 10, "titlePadding": 9}},
       "color": {"datum": "Acoustic Attenuation"}}},
    {"data": {"name": "transC"}, "mark": {"type": "line", "strokeDash": [7, 4.5], "strokeWidth": 1.8},
     "encoding": {"y": {"field": "v", "type": "quantitative", "scale": {"domain": [0, 100], "nice": false, "zero": false},
        "axis": {"orient": "right", "offset": 80, "values": [0,10,20,30,40,50,60,70,80,90,100], "title": "Light Transmittance (%)", "labelColor": "#dda276", "titleColor": "#dda276", "domainColor": "#ededed", "domainWidth": 10, "labelPadding": 10, "titlePadding": 9}},
       "color": {"datum": "Light Transmittance"}}},
    {"data": {"name": "vosC"}, "mark": {"type": "line", "strokeDash": [7, 2.5, 1.5, 2.5], "strokeWidth": 1.5},
     "encoding": {"y": {"field": "v", "type": "quantitative", "scale": {"domain": [1380, 1560], "nice": false, "zero": false},
        "axis": {"orient": "right", "offset": 5.5, "values": [1380,1400,1420,1440,1460,1480,1500,1520,1540,1560], "format": "d", "title": "Velocity of Sound (m/s)", "labelColor": "#bf4f5c", "titleColor": "#bf4f5c", "domainColor": "#eee8e8", "domainWidth": 11, "labelPadding": 11, "titlePadding": 10}},
       "color": {"datum": "Velocity of Sound"}}},
    {"data": {"name": "tempC"}, "mark": {"type": "line", "strokeWidth": 1.5},
     "encoding": {"y": {"field": "v", "type": "quantitative", "scale": {"domain": [0, 50], "nice": false, "zero": false},
        "axis": {"orient": "left", "values": [0,5,10,15,20,25,30,35,40,45,50], "title": null, "labelFontSize": 15, "labelPadding": 3}},
       "color": {"datum": "Process Temperature",
         "scale": {"domain": ["Process Temperature", "Velocity of Sound", "Acoustic Attenuation", "Light Transmittance", "Light Absorbance", "Velocity of Sound 1st Derivative"], "range": ["#527fa3", "#cf3f47", "#45b045", "#f0a040", "#a56ec4", "#1a1ae6"]},
         "legend": {"orient": "none", "legendX": 18, "legendY": 238, "title": null, "symbolSize": 225, "symbolStrokeWidth": 1.5, "labelOffset": 17, "rowPadding": 2, "padding": 0,
           "encode": {"symbols": {"update": {
             "shape": {"signal": "datum.value === 'Light Absorbance' ? 'M-1,0L3,0M0.55,0A0.45,0.45 0 1 1 1.45,0A0.45,0.45 0 1 1 0.55,0' : datum.value === 'Velocity of Sound 1st Derivative' ? 'M-1,0L3,0M1,-0.6L1.4,0L1,0.6L0.6,0Z' : 'M-1,0L3,0'"},
             "strokeDash": {"signal": "datum.value === 'Velocity of Sound' ? [6,2,1.5,2] : datum.value === 'Acoustic Attenuation' ? [1,1.5] : datum.value === 'Light Transmittance' ? [6,4] : []"},
             "stroke": {"signal": "datum.value === 'Process Temperature' ? '#527fa3' : datum.value === 'Velocity of Sound' ? '#cf3f47' : datum.value === 'Acoustic Attenuation' ? '#45b045' : datum.value === 'Light Transmittance' ? '#f0a040' : datum.value === 'Light Absorbance' ? '#a56ec4' : '#1a1ae6'"},
             "fill": {"value": "transparent"}, "size": {"value": 225}, "strokeWidth": {"value": 1.3}, "opacity": {"value": 1}}}}}}}},
    {"data": {"name": "labelsC"}, "mark": {"type": "text", "fontSize": 16, "color": "#1a1a1a"},
     "encoding": {"y": {"field": "v", "type": "quantitative", "scale": {"domain": [0, 50], "nice": false, "zero": false}, "axis": null}, "text": {"field": "label"}}},
    {"data": {"name": "absC"}, "mark": {"type": "line", "strokeWidth": 1, "point": {"filled": false, "shape": "circle", "size": 36, "strokeWidth": 1}},
     "encoding": {"y": {"field": "v", "type": "quantitative", "scale": {"domain": [0, 2.5], "nice": false, "zero": false},
        "axis": {"orient": "left", "offset": 106, "values": [0,0.5,1,1.5,2,2.5], "labelExpr": "format(datum.value, '~g')", "title": ["", "Light Absorbance (a.u.)"], "titleLineHeight": 14, "labelColor": "#a48bbf", "titleColor": "#a48bbf", "domainColor": "#ebebeb", "domainWidth": 9, "labelPadding": 9, "titlePadding": 8}},
       "color": {"datum": "Light Absorbance"}}},
    {"data": {"name": "derivC"}, "mark": {"type": "line", "strokeWidth": 1.2, "point": {"filled": false, "shape": "diamond", "size": 50, "strokeWidth": 1.2}},
     "encoding": {"y": {"field": "v", "type": "quantitative", "scale": {"domain": [-60, 60], "nice": false, "zero": false},
        "axis": {"orient": "right", "offset": 146, "values": [-60,-40,-20,0,20,40,60], "labelExpr": "replace(datum.label, '\u2212', '-')", "title": "Velocity of Sound First Derivative (m s⁻²)", "titleFontSize": 14.5, "labelColor": "#2b2bb0", "titleColor": "#2b2bb0", "domainColor": "#e8e8f2", "domainWidth": 7, "labelPadding": 7, "titlePadding": 4}},
       "color": {"datum": "Velocity of Sound 1st Derivative"}}}
  ]
}]}
]
}
